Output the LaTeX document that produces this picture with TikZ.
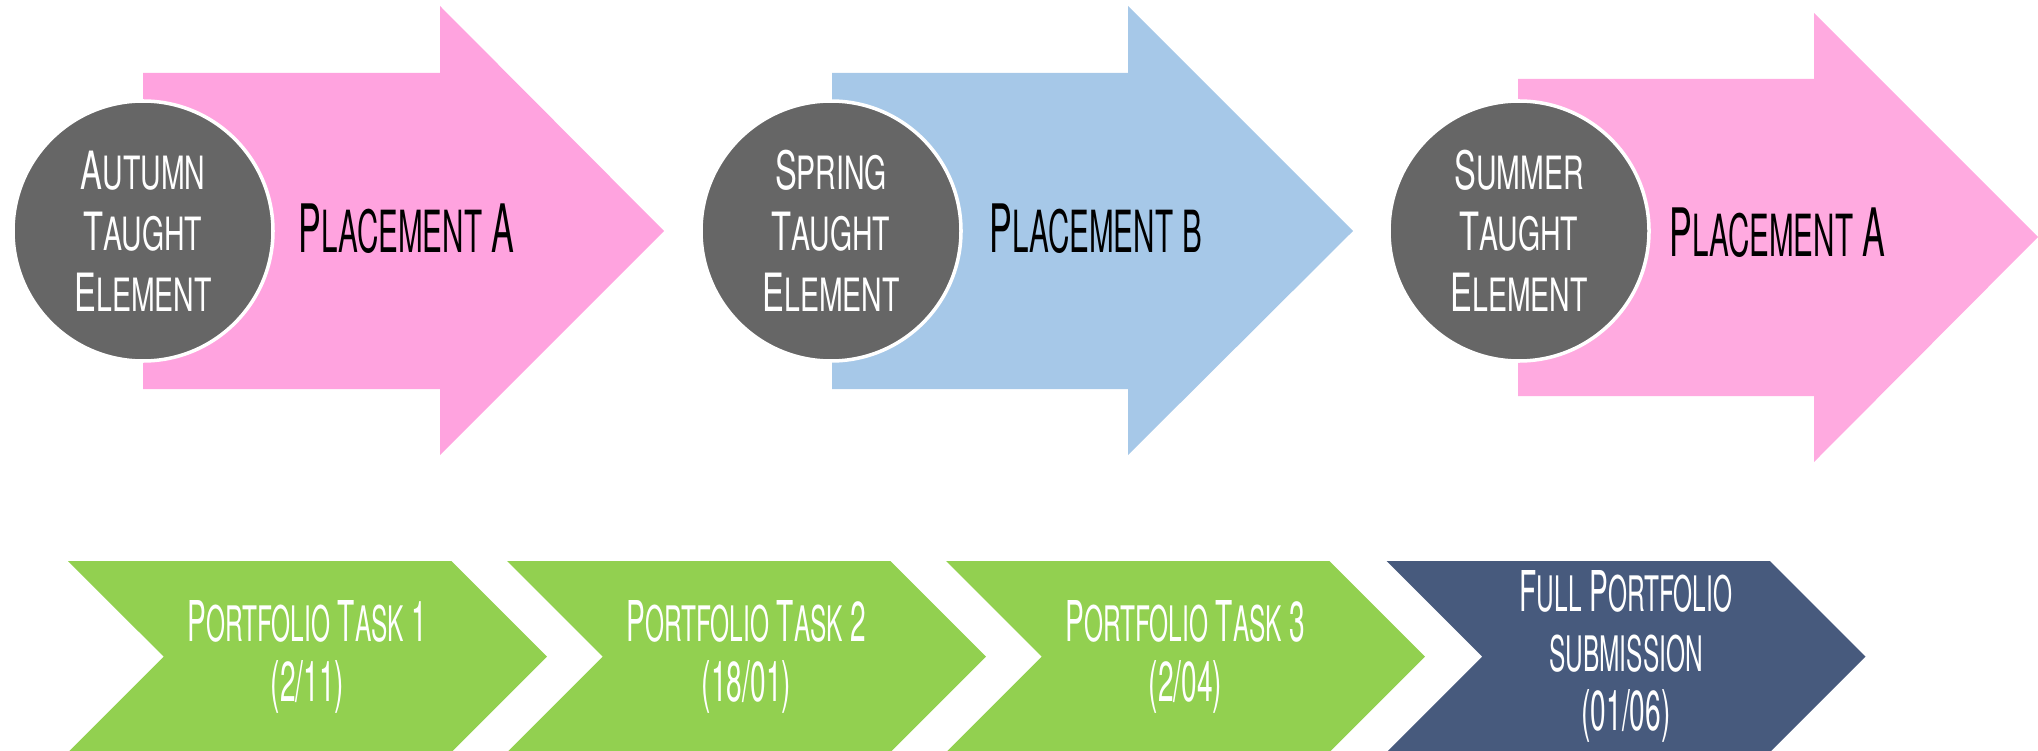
\documentclass[tikz,border=0pt]{standalone}
\usepackage{fontspec}
\usetikzlibrary{shapes.symbols}
\newfontfamily\termfont[FakeStretch=0.62]{TeX Gyre Heros}
\newfontfamily\placefont[FakeStretch=0.51]{TeX Gyre Heros}
\newfontfamily\taskfont[FakeStretch=0.5]{TeX Gyre Heros}
\makeatletter
% small letters drawn as smaller capitals
\newcommand\lowcaps[1]{{\fontsize{0.87\dimexpr\f@size pt\relax}{\f@baselineskip}\selectfont\MakeUppercase{#1}}}
\newcommand\capword[1]{\capword@#1\@nil}
\def\capword@#1#2\@nil{#1\lowcaps{#2}}
\makeatother
\definecolor{placepink}{HTML}{FFA3DF}
\definecolor{placepinkb}{HTML}{FFAAE0}
\definecolor{placeblue}{HTML}{A6C8E8}
\definecolor{termgrey}{HTML}{666666}
\definecolor{taskgreen}{HTML}{92D050}
\definecolor{tasknavy}{HTML}{475A7D}
\tikzset{
  term/.style={circle,fill=termgrey,draw=white,line width=1pt,minimum size=2.6cm,inner sep=0pt,
    text=white,align=center,font=\termfont\fontsize{15}{17.4}\selectfont},
  place/.style={anchor=west,inner sep=0pt,font=\placefont\fontsize{19}{22}\selectfont},
  task/.style={shape=signal,signal from=west,signal to=east,signal pointer angle=90,
    minimum width=4.79cm,minimum height=1.914cm,inner sep=0pt,
    text=white,align=center,font=\taskfont\fontsize{16}{17}\selectfont},
}
\begin{document}
\begin{tikzpicture}
        \useasboundingbox (0,0) rectangle (20.38,7.5);
        % Autumn block
        \fill[placepink] (1.43,6.77) -- (4.40,6.77) -- (4.40,7.44) -- (6.64,5.19) -- (4.40,2.95) -- (4.40,3.61) -- (1.43,3.61) -- cycle;
        \node[term] (autumn) at (1.43,5.19) {\capword{Autumn}\\\capword{Taught}\\\capword{Element}};
        \node[place] (placeA) at (2.98,5.21) {\capword{Placement} \capword{A}};
        %
        % Spring block
        \fill[placeblue] (8.32,6.77) -- (11.28,6.77) -- (11.28,7.44) -- (13.53,5.19) -- (11.28,2.95) -- (11.28,3.61) -- (8.32,3.61) -- cycle;
        \node[term] (spring) at (8.31,5.19) {\capword{Spring}\\\capword{Taught}\\\capword{Element}};
        \node[place] (placeB) at (9.89,5.21) {\capword{Placement} \lowcaps{b}};
        %
        % Summer block
        \fill[placepinkb] (15.18,6.71) -- (18.14,6.71) -- (18.14,7.37) -- (20.38,5.13) -- (18.14,2.88) -- (18.14,3.54) -- (15.18,3.54) -- cycle;
        \node[term] (summer) at (15.19,5.19) {\capword{Summer}\\\capword{Taught}\\\capword{Element}};
        \node[place] (placeC) at (16.69,5.17) {\capword{Placement} \capword{A}};
        %
        % Portfolio deadlines
        \node[task,fill=taskgreen] (task1) at (3.075,0.933) {\capword{Portfolio} \capword{Task} 1\\(2/11)};
        \node[task,fill=taskgreen] (task2) at (7.465,0.933) {\capword{Portfolio} \capword{Task} 2\\(18/01)};
        \node[task,fill=taskgreen] (task3) at (11.855,0.933) {\capword{Portfolio} \capword{Task} 3\\(2/04)};
        \node[task,fill=tasknavy] (full) at (16.26,0.933) {\capword{Full} \capword{Portfolio}\\\lowcaps{submission}\\(01/06)};
\end{tikzpicture}
\end{document}
